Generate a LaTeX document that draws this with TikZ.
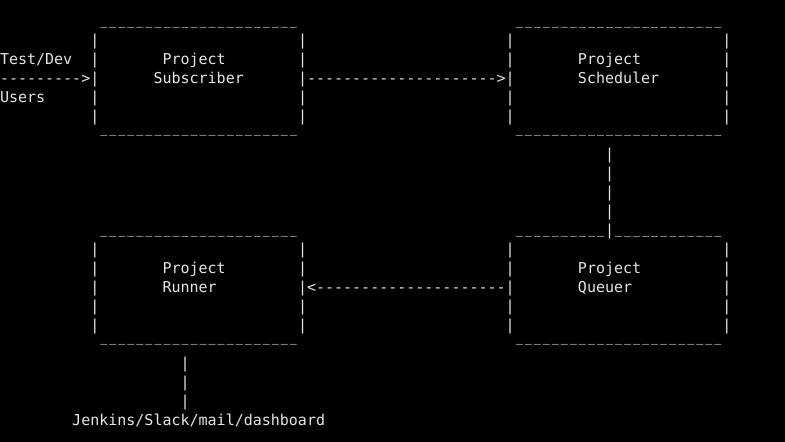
\documentclass[tikz,border=0pt]{standalone}
\usepackage{fontspec}
\usepackage{graphicx}
\setmonofont{DejaVu Sans Mono}
\definecolor{fg}{RGB}{229,229,229}
\ExplSyntaxOn
\NewDocumentCommand\reps{mm}{\prg_replicate:nn{#1}{#2}}
\ExplSyntaxOff
\newcommand\usc[1]{\reps{#1}{\makebox[9.0308pt][c]{\scalebox{0.78}[1]{\_}}}}
\begin{document}
\begin{tikzpicture}[x=9.0308pt,y=-19pt,
  t/.style={anchor=base west,inner sep=0pt,outer sep=0pt,text=fg,
    font=\ttfamily\fontsize{15pt}{19pt}\selectfont}]
\useasboundingbox (0pt,0pt) rectangle (785pt,-442pt);
\fill[black] (0pt,0pt) rectangle (785pt,-442pt);
\begin{scope}[yshift=-26pt]
% box edges (vertical bars)
\foreach \r in {1,...,5,12,13,14,15,16}
  \foreach \c in {10,33,56,80}
    \node[t] (bar-\c-\r) at (\c,\r) {|};
% top / bottom edges
\node[t,yshift=1.5pt] (subTop) at (11,0) {\usc{22}};
\node[t,yshift=1.5pt] (schTop) at (57,0) {\usc{23}};
\node[t,yshift=7.9pt] (subBot) at (11,6) {\usc{22}};
\node[t,yshift=7.9pt] (schBot) at (57,6) {\usc{23}};
\node[t,yshift=1.2pt] (runTop) at (11,11) {\usc{22}};
\node[t,yshift=1.2pt] (queTopA) at (57,11) {\usc{10}};
\node[t] (queTopJ) at (67,11) {|};
\node[t,yshift=1.2pt] (queTopB) at (68,11) {\usc{12}};
\node[t,yshift=7.9pt] (runBot) at (11,17) {\usc{22}};
\node[t,yshift=7.9pt] (queBot) at (57,17) {\usc{23}};
% labels
\node[t] (testdev) at (0,2) {Test/Dev};
\node[t] (users) at (0,4) {Users};
\node[t] (subA) at (18,2) {Project};
\node[t] (subB) at (17,3) {Subscriber};
\node[t] (schA) at (64,2) {Project};
\node[t] (schB) at (64,3) {Scheduler};
\node[t] (runA) at (18,13) {Project};
\node[t] (runB) at (18,14) {Runner};
\node[t] (queA) at (64,13) {Project};
\node[t] (queB) at (64,14) {Queuer};
\node[t] (out) at (8,21) {Jenkins/Slack/mail/dashboard};
% arrows
\node[t] (arrIn) at (0,3) {\reps{9}{-}>};
\node[t] (arrSubSch) at (34,3) {\reps{21}{-}>};
\node[t] (arrQueRun) at (34,14) {<\reps{21}{-}};
\foreach \r in {7,...,10}
  \node[t] (link-\r) at (67,\r) {|};
\foreach \r in {18,19,20}
  \node[t] (down-\r) at (20,\r) {|};
\end{scope}
\end{tikzpicture}
\end{document}
